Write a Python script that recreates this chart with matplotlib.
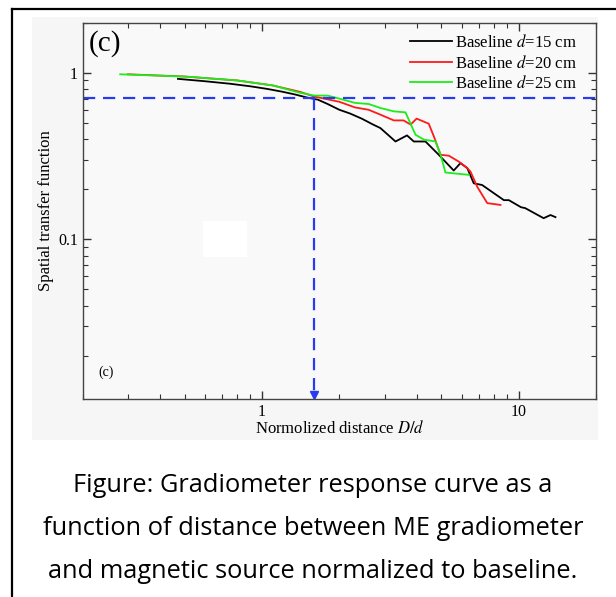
import matplotlib
matplotlib.use("Agg")
import matplotlib.pyplot as plt
from matplotlib.patches import Rectangle
from matplotlib.lines import Line2D
from matplotlib.ticker import LogLocator, NullFormatter

# baseline d=15 cm (black)
x15 = [0.47, 0.6, 0.75, 0.9, 1.05, 1.2, 1.35, 1.5, 1.65, 1.8, 2.0, 2.2, 2.45, 2.7,
       2.89, 3.31, 3.67, 3.90, 4.33, 4.88, 5.58, 5.93, 6.30, 6.68, 7.20, 8.75,
       9.15, 10.2, 10.6, 12.5, 13.3, 13.9]
y15 = [0.92, 0.89, 0.86, 0.83, 0.80, 0.77, 0.74, 0.71, 0.69, 0.65, 0.60, 0.57, 0.53, 0.49,
       0.466, 0.387, 0.421, 0.387, 0.387, 0.322, 0.259, 0.287, 0.268, 0.217, 0.212, 0.172,
       0.172, 0.156, 0.154, 0.134, 0.140, 0.136]

# baseline d=20 cm (red)
x20 = [0.3, 0.5, 0.8, 1.1, 1.4, 1.6, 2.0, 2.3, 2.6, 2.89, 3.26, 3.56, 3.79, 4.0, 4.46,
       4.67, 4.96, 5.34, 5.84, 6.30, 6.49, 6.89, 7.54, 8.49]
y20 = [0.98, 0.95, 0.90, 0.84, 0.77, 0.72, 0.67, 0.62, 0.60, 0.561, 0.518, 0.518, 0.489,
       0.531, 0.495, 0.415, 0.322, 0.318, 0.293, 0.268, 0.255, 0.207, 0.165, 0.161]

# baseline d=25 cm (green)
x25 = [0.28, 0.5, 0.8, 1.1, 1.4, 1.6, 1.8, 2.0, 2.3, 2.6, 2.89, 3.26, 3.62, 3.96, 4.27,
       4.74, 4.96, 5.18, 6.39]
y25 = [0.98, 0.95, 0.90, 0.84, 0.76, 0.73, 0.73, 0.70, 0.66, 0.65, 0.615, 0.587, 0.579,
       0.425, 0.397, 0.387, 0.322, 0.252, 0.244]

level = 0.707      # -3 dB line
x_cut = 1.6

caption = ["Figure: Gradiometer response curve as a",
           "function of distance between ME gradiometer",
           "and magnetic source normalized to baseline."]

plt.rcParams['font.family'] = 'Liberation Serif'
plt.rcParams['mathtext.fontset'] = 'stix'

W, H = 616, 597
fig = plt.figure(figsize=(W / 100, H / 100), dpi=100)

# light grey panel and outer frame
fig.patches.append(Rectangle((32 / W, 1 - 440 / H), (598 - 32) / W, (440 - 17) / H,
                             transform=fig.transFigure, facecolor='#f6f6f6',
                             edgecolor='none', zorder=-5))
fig.add_artist(Line2D([12 / W, 12 / W], [0, 1 - 9 / H], color='black', lw=1.6))
fig.add_artist(Line2D([12 / W, 1], [1 - 9 / H, 1 - 9 / H], color='black', lw=1.6))

ax = fig.add_axes([82.7 / W, 1 - 399 / H, (596 - 82.7) / W, (399 - 22.7) / H])
ax.set_zorder(2)
ax.set_facecolor('#f9f9f9')
ax.add_patch(Rectangle((0.234, 0.378), 0.087, 0.096, transform=ax.transAxes,
                       facecolor='white', edgecolor='none', zorder=0))

ax.plot(x15, y15, color='black', lw=1.3, label=r'Baseline $\mathit{d}$=15 cm')
ax.plot(x20, y20, color='#ff1a1a', lw=1.3, label=r'Baseline $\mathit{d}$=20 cm')
ax.plot(x25, y25, color='#1aee1a', lw=1.3, label=r'Baseline $\mathit{d}$=25 cm')

blue = '#2a3af0'
ax.axhline(level, color=blue, lw=1.6, ls=(0, (5.5, 3.5)))
ax.plot([x_cut, x_cut], [level, 0.0118], color=blue, lw=1.6, ls=(0, (5.5, 3.5)))
ax.plot([x_cut], [0.0117], marker='v', color=blue, ms=6, clip_on=False)

ax.set_xscale('log')
ax.set_yscale('log')
ax.set_xlim(0.2, 20)
ax.set_ylim(0.011, 2.0)
ax.set_xticks([1, 10])
ax.set_xticklabels(['1', '10'])
ax.set_yticks([0.1, 1])
ax.set_yticklabels(['0.1', '1'])
ax.xaxis.set_minor_locator(LogLocator(base=10, subs=range(2, 10)))
ax.yaxis.set_minor_locator(LogLocator(base=10, subs=range(2, 10)))
ax.xaxis.set_minor_formatter(NullFormatter())
ax.yaxis.set_minor_formatter(NullFormatter())
ax.tick_params(which='both', direction='in', top=True, right=True, labelsize=11.5,
               color='#333333')
ax.tick_params(which='major', length=6, width=1)
ax.tick_params(which='minor', length=3.5, width=0.8)
for s in ax.spines.values():
    s.set_color('#444444')
    s.set_linewidth(1)

ax.set_xlabel(r'Normolized distance $\mathit{D/d}$', fontsize=12, labelpad=0)
ax.set_ylabel('Spatial transfer function', fontsize=12, labelpad=3)

ax.text(0.012, 0.945, '(c)', transform=ax.transAxes, fontsize=21, va='center', ha='left')
ax.text(0.03, 0.07, '(c)', transform=ax.transAxes, fontsize=10, va='center', ha='left')

ax.legend(loc='upper right', bbox_to_anchor=(0.962, 0.970), frameon=False, fontsize=12,
          handlelength=2.5, handletextpad=0.15, labelspacing=0.22, borderpad=0,
          borderaxespad=0)

for i, line in enumerate(caption):
    fig.text(313 / W, 1 - (485 + 43.3 * i) / H, line, ha='center', va='center',
             fontsize=18.3, family='Open Sans')

fig.savefig('out.png', dpi=100)
